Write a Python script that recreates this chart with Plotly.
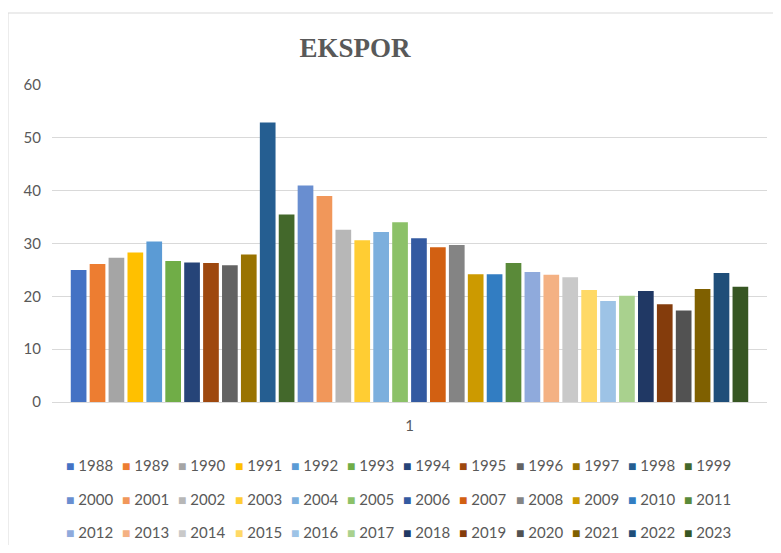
import plotly.graph_objects as go

years = [str(y) for y in range(1988, 2024)]
values = [25.0, 26.1, 27.3, 28.3, 30.4, 26.7, 26.4, 26.3, 25.9, 27.9, 52.9, 35.5,
          41.0, 39.0, 32.6, 30.6, 32.2, 34.0, 31.0, 29.3, 29.7, 24.2, 24.2, 26.3,
          24.6, 24.1, 23.6, 21.2, 19.1, 20.1, 21.0, 18.5, 17.3, 21.4, 24.4, 21.8]
colors = ["#4472C4", "#ED7D31", "#A5A5A5", "#FFC000", "#5B9BD5", "#70AD47",
          "#264478", "#9E480E", "#636363", "#997300", "#255E91", "#43682B",
          "#698ED0", "#F1975A", "#B7B7B7", "#FFCD33", "#7CAFDD", "#8CC168",
          "#335AA1", "#D26012", "#848484", "#CC9A00", "#327DC2", "#5A8A39",
          "#8FAADC", "#F4B183", "#C9C9C9", "#FFD966", "#9DC3E6", "#A9D18E",
          "#203864", "#843C0C", "#525252", "#7F6000", "#1F4E79", "#375623"]
category = ["1"]
y_ticks = [0, 10, 20, 30, 40, 50, 60]
title_text = "EKSPOR"

# page offset of the figure (default body margin)
OFF = 8
W, H = 781 - 2 * OFF, 553 - 2 * OFF
# plot area in page pixels: x 52..767, y 85..402
L = 52 - OFF
R = W - (767 - OFF)
T = 85 - OFF
B = H - (402 - OFF)
pw = W - L - R
ph = H - T - B

def px_x(px):
    return (px - OFF - L) / pw

def px_y(py):
    return (H - B - (py - OFF)) / ph

fig = go.Figure()
for yr, v, c in zip(years, values, colors):
    fig.add_trace(go.Bar(name=yr, x=category, y=[v], marker=dict(color=c, line=dict(width=0)),
                         showlegend=False))

font_main = "Lato, 'Open Sans', sans-serif"
gray = "#595959"

# manual legend: 3 rows of 12
annotations = []
per_row = 12
x0, dx = 64, 56.2
row_y = [465, 499, 532]
for i, (yr, c) in enumerate(zip(years, colors)):
    r, k = divmod(i, per_row)
    annotations.append(dict(
        xref="paper", yref="paper",
        x=px_x(x0 + k * dx), y=px_y(row_y[r]),
        xanchor="left", yanchor="middle", showarrow=False,
        text=f"<span style='color:{c};font-size:14px'>■</span> {yr}",
        font=dict(family=font_main, size=15, color=gray),
    ))

fig.update_layout(
    width=W, height=H,
    margin=dict(l=L, r=R, t=T, b=B),
    paper_bgcolor="white", plot_bgcolor="white",
    barmode="group", bargap=0.048, bargroupgap=0.17,
    title=dict(text=f"<b>{title_text}</b>", xref="paper", x=px_x(355), xanchor="center",
               yref="container", y=1 - (48 - OFF) / H, yanchor="middle",
               font=dict(family="'Liberation Serif', 'Times New Roman', serif", size=27, color=gray)),
    font=dict(family=font_main, size=15, color=gray),
    xaxis=dict(showgrid=False, showline=True, linecolor="#D9D9D9", linewidth=1,
               ticks="", tickfont=dict(family=font_main, size=15, color=gray),
               ticklabelstandoff=10, fixedrange=True),
    yaxis=dict(range=[0, 60], tickvals=y_ticks, showgrid=True, gridcolor="#D9D9D9", gridwidth=1,
               zeroline=False, showline=False, ticks="",
               tickfont=dict(family=font_main, size=15, color=gray),
               ticklabelstandoff=10, fixedrange=True),
    annotations=annotations,
    shapes=[dict(type="rect", xref="paper", yref="paper",
                 x0=px_x(8), x1=px_x(820), y0=px_y(600), y1=px_y(13),
                 line=dict(color="#D9D9D9", width=1), fillcolor="rgba(0,0,0,0)", layer="below")],
)

fig.write_html("out.html")
